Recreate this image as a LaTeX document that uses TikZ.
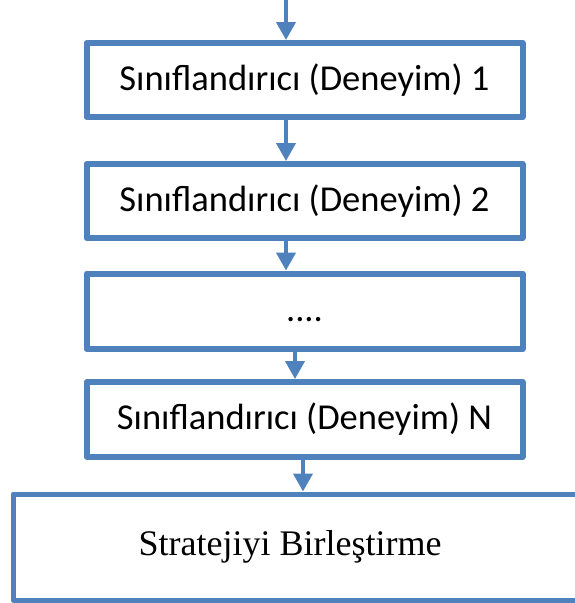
\documentclass[tikz,border=0pt]{standalone}
\usepackage{fontspec}
\setmainfont{Liberation Serif}
\newfontfamily\boxfont{Carlito}
\usetikzlibrary{arrows.meta}
\definecolor{flowblue}{HTML}{4F81BD}
\tikzset{
  stepbox/.style={draw=flowblue, line width=6pt, line join=round, fill=white, minimum width=436pt, minimum height=74pt, inner sep=0pt, font=\boxfont\fontsize{36.5}{43}\selectfont},
  finalbox/.style={draw=flowblue, line width=5pt, line join=round, fill=white, minimum width=570pt, minimum height=106pt, inner sep=0pt},
  finaltext/.style={font=\fontsize{36}{43}\selectfont, inner sep=0pt},
  arr/.style={draw=flowblue, line width=4pt, -{Triangle[width=19pt,length=18pt]}}
}
\begin{document}
\begin{tikzpicture}[x=1pt,y=-1pt]
\useasboundingbox (0,0) rectangle (575,603);
\coordinate (top) at (286,0);
\node[stepbox] (b1) at (304.5,80) {Sınıflandırıcı (Deneyim) 1};
\node[stepbox] (b2) at (304.5,201) {Sınıflandırıcı (Deneyim) 2};
\node[stepbox, minimum height=75.5pt] (b3) at (304.5,311.3) {\vphantom{(Deneyim)}....};
\node[stepbox, minimum height=74.5pt] (b4) at (304.5,419.3) {Sınıflandırıcı (Deneyim) N};
\node[finalbox] (b5) at (298,547) {};
\node[finaltext] (t5) at (290,547) {Stratejiyi Birleştirme};
\draw[arr] (top) -- (top |- b1.north);
\draw[arr] (top |- b1.south) -- (top |- b2.north);
\draw[arr] (top |- b2.south) -- (top |- b3.north);
\draw[arr] ([xshift=-9.5pt]b3.south) -- ([xshift=-9.5pt]b3.south |- b4.north);
\draw[arr] ([xshift=-1.5pt]b4.south) -- ([xshift=-1.5pt]b4.south |- b5.north);
\end{tikzpicture}
\end{document}
